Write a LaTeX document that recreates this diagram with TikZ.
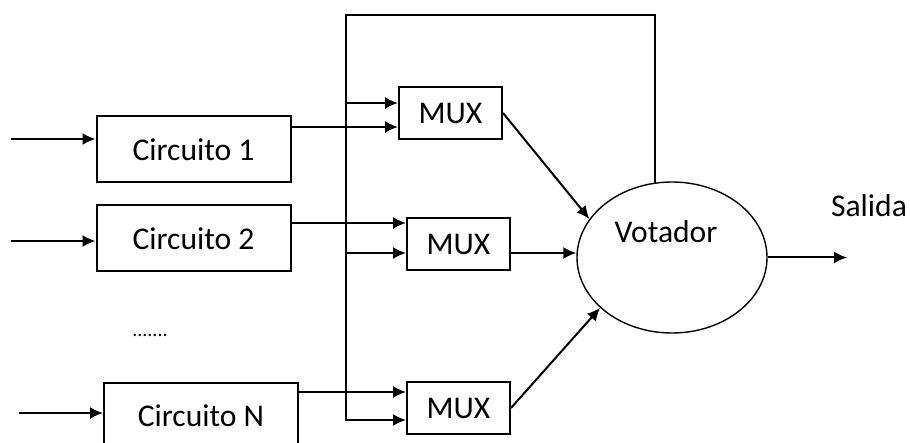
\documentclass[tikz,border=0pt]{standalone}
\usepackage{fontspec}
\setmainfont{Carlito}
\usetikzlibrary{arrows.meta,shapes.geometric}

\begin{document}
\begin{tikzpicture}[x=0.5pt, y=-0.5pt, line width=1pt,
  >={Latex[length=6.5pt,width=6pt]},
  font=\fontsize{15.8}{19}\selectfont,
  circ/.style={rectangle, draw, minimum width=97pt, minimum height=33pt, inner sep=0pt},
  mux/.style={rectangle, draw, minimum width=51.5pt, minimum height=26pt, inner sep=0pt},
  voter/.style={ellipse, draw, line width=0.7pt, minimum width=95pt,
                minimum height=75.5pt, inner sep=0pt}]
  \useasboundingbox (0,0) rectangle (910,443);
  % Circuits
  \node[circ] (c1) at (193.5,149.5) {Circuito 1};
  \node[circ] (c2) at (193.5,238.5) {Circuito 2};
  \node[circ] (cN) at (201,415.5) {Circuito N};
  \node[font=\fontsize{10}{12}\selectfont] (dots) at (150,335) {.......};
  % Multiplexers and voter
  \node[mux] (m1) at (450.5,113) {MUX};
  \node[mux] (m2) at (458.5,244) {MUX};
  \node[mux] (m3) at (458.5,408) {MUX};
  \node[voter] (vot) at (672,257.5) {};
  \node (votlbl) at (666,232) {Votador};
  \node (sal) at (869,206) {Salida};
  % Free ends
  \coordinate (in1) at (11,139);
  \coordinate (in2) at (11,241);
  \coordinate (inN) at (19,413);
  \coordinate (bustop) at (346,15);
  \coordinate (out) at (847,257.5);
  % MUX inputs
  \coordinate (m1a) at ([yshift=5pt]m1.west);
  \coordinate (m1b) at ([yshift=-7pt]m1.west);
  \coordinate (m2a) at ([yshift=10.5pt]m2.west);
  \coordinate (m2b) at ([yshift=-4.5pt]m2.west);
  \coordinate (m3a) at ([yshift=8pt]m3.west);
  \coordinate (m3b) at ([yshift=-6pt]m3.west);
  % Inputs left
  \draw[->] (in1) -- (in1 -| c1.west);
  \draw[->] (in2) -- (in2 -| c2.west);
  \draw[->] (inN) -- (inN -| cN.west);
  % Circuits to MUX
  \draw[->] (c1.east |- m1b) -- (m1b);
  \draw[->] (c2.east |- m2a) -- (m2a);
  \draw[->] (cN.east |- m3a) -- (m3a);
  % Feedback bus
  \draw[->] (vot.103) |- (bustop) |- (m3b);
  \draw[->] (bustop |- m1a) -- (m1a);
  \draw[->] (bustop |- m2b) -- (m2b);
  % MUX to voter
  \draw[->] (m1.east) -- (vot.155);
  \draw[->] (m2.east |- m2b) -- (m2b -| vot.west);
  \draw[->] (m3.east) -- (vot.215);
  % Output right
  \draw[->] (vot.east) -- (out);
\end{tikzpicture}
\end{document}
